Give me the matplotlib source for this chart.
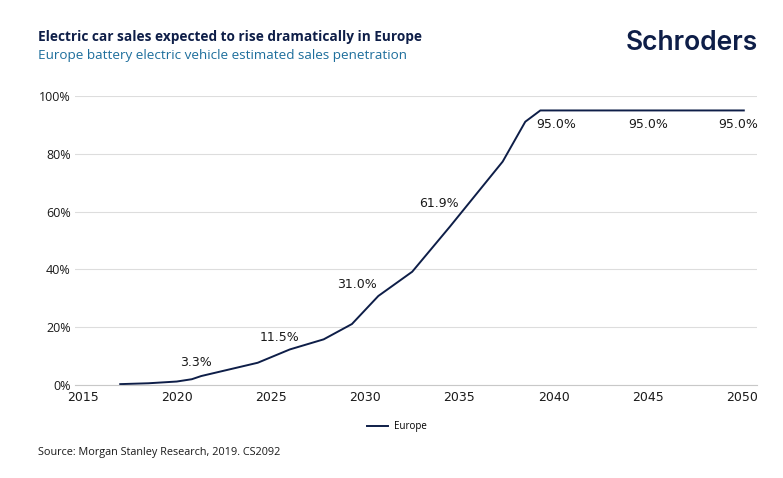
import matplotlib.pyplot as plt
from matplotlib.ticker import FuncFormatter

# estimated sales penetration (%)
years = [2017.0, 2018.5, 2020.0, 2020.8, 2021.3, 2024.3, 2026.0, 2027.8, 2029.3,
         2030.7, 2032.5, 2034.5, 2037.3, 2038.5, 2039.3, 2050.1]
europe = [0.3, 0.6, 1.2, 2.0, 3.1, 7.7, 12.3, 15.8, 21.1,
          30.8, 39.2, 54.8, 77.3, 91.1, 95.0, 95.0]

label_years = [2021, 2025, 2030, 2035, 2040, 2045, 2050]
label_vals = [3.3, 11.5, 31.0, 61.9, 95.0, 95.0, 95.0]
label_offsets = [(0, 9), (6, 10), (-6, 8), (-15, 2), (2, -10), (0, -10), (-3, -10)]

navy = '#0e1e48'
plt.rcParams['font.family'] = ['Open Sans', 'DejaVu Sans']

fig = plt.figure(figsize=(7.83, 4.78), dpi=100)
ax = fig.add_axes([75/783, 93/478, 682/783, 289/478])

ax.plot(years, europe, color=navy, lw=1.4, label='Europe', clip_on=False)

for yr, v, (dx, dy) in zip(label_years, label_vals, label_offsets):
    ax.annotate(f'{v:.1f}%', (yr, v), xytext=(dx, dy), textcoords='offset points',
                ha='center', va='center', fontsize=9, family='DejaVu Sans', color='#1a1a1a')

ax.set_xlim(2014.6, 2050.8)
ax.set_ylim(0, 100)
ax.set_xticks(range(2015, 2051, 5))
ax.set_yticks(range(0, 101, 20))
ax.yaxis.set_major_formatter(FuncFormatter(lambda v, p: f'{v:.0f}%'))
ax.grid(axis='y', color='#dddddd', lw=0.8)
ax.set_axisbelow(True)
for s in ['top', 'right', 'left']:
    ax.spines[s].set_visible(False)
ax.spines['bottom'].set_color('#c8c8c8')
ax.tick_params(length=0)
ax.tick_params(axis='y', labelsize=9, pad=3, labelcolor='#1a1a1a')
ax.tick_params(axis='x', labelsize=9, pad=4, labelcolor='#1a1a1a')
for t in ax.get_xticklabels():
    t.set_family('DejaVu Sans')

ax.legend(loc='center', bbox_to_anchor=(0.472, -0.145), frameon=False, fontsize=7,
          handlelength=2.2, handletextpad=0.6)

fig.text(38/783, 1 - 37/478, 'Electric car sales expected to rise dramatically in Europe',
         fontsize=9.8, fontweight='bold', color=navy, va='center')
fig.text(38/783, 1 - 55/478, 'Europe battery electric vehicle estimated sales penetration',
         fontsize=9.7, color='#1d6e9c', va='center')
fig.text(758/783, 1 - 43/478, 'Schroders', fontsize=19, fontweight='semibold', color=navy,
         ha='right', va='center', family='Inter')
fig.text(38/783, 1 - 453/478, 'Source: Morgan Stanley Research, 2019. CS2092',
         fontsize=7.8, color='#1a1a1a', va='center')

fig.savefig('out.png', dpi=100, facecolor='white')
